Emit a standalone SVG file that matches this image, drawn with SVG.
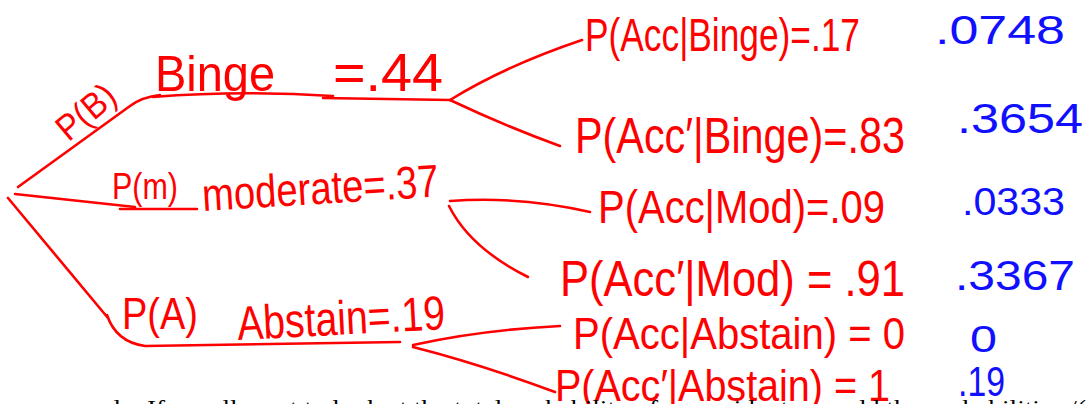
<svg xmlns="http://www.w3.org/2000/svg" width="1086" height="404" viewBox="0 0 1086 404">
<style>
.c{fill:none;stroke:#ff0000;stroke-width:2.6;stroke-linecap:round;stroke-linejoin:round}
.r{fill:#ff0000;font-family:"Liberation Sans","DejaVu Sans",sans-serif}
.b{fill:#1010ff;font-family:"Liberation Sans","DejaVu Sans",sans-serif}
.k{fill:#000;font-family:"Liberation Serif",serif;font-size:24px}
</style>
<rect width="1086" height="404" fill="#fff"/>
<g id="connectors">
<path class="c" d="M18,187 L130,106 Q142,97 160,95"/>
<path class="c" d="M153,97 Q240,90 333,96"/>
<path class="c" d="M323,98 L450,100"/>
<path class="c" d="M450,100 Q505,66 582,40"/>
<path class="c" d="M450,100 Q505,126 560,146"/>
<path class="c" d="M15,194 L135,207"/>
<path class="c" d="M120,209 L197,209"/>
<path class="c" d="M450,201 Q520,196 590,212"/>
<path class="c" d="M449,206 Q470,248 528,277"/>
<path class="c" d="M8,198 L108,318 M107,315 Q116,342 145,346 L400,342"/>
<path class="c" d="M413,345 Q480,330 560,326"/>
<path class="c" d="M413,347 Q480,364 555,392"/>
</g>
<g id="node-root-binge">
<text class="r" font-size="36" text-anchor="middle" transform="translate(86,112) rotate(-40)" y="12" textLength="66" lengthAdjust="spacingAndGlyphs">P(B)</text>
<text class="r" font-size="50" x="155" y="91" textLength="120" lengthAdjust="spacingAndGlyphs">Binge</text>
<text class="r" font-size="54" x="333" y="91" textLength="110" lengthAdjust="spacingAndGlyphs">=.44</text>
</g>
<g id="node-moderate">
<text class="r" font-size="36" x="112" y="199" textLength="66" lengthAdjust="spacingAndGlyphs">P(m)</text>
<text class="r" font-size="46" transform="rotate(-3.5 203 211)" x="203" y="211" textLength="237" lengthAdjust="spacingAndGlyphs">moderate=.37</text>
</g>
<g id="node-abstain">
<text class="r" font-size="44" x="122" y="329" textLength="76" lengthAdjust="spacingAndGlyphs">P(A)</text>
<text class="r" font-size="48" transform="rotate(-3 238 340)" x="238" y="340" textLength="208" lengthAdjust="spacingAndGlyphs">Abstain=.19</text>
</g>
<g id="node-acc-binge">
<text class="r" font-size="46" x="585" y="51" textLength="275" lengthAdjust="spacingAndGlyphs">P(Acc|Binge)=.17</text>
<text class="b" font-size="40" x="935" y="44" textLength="130" lengthAdjust="spacingAndGlyphs">.0748</text>
</g>
<g id="node-accp-binge">
<text class="r" font-size="50" x="575" y="153" textLength="330" lengthAdjust="spacingAndGlyphs">P(Acc′|Binge)=.83</text>
<text class="b" font-size="42" x="957" y="133" textLength="126" lengthAdjust="spacingAndGlyphs">.3654</text>
</g>
<g id="node-acc-mod">
<text class="r" font-size="46" x="598" y="223" textLength="287" lengthAdjust="spacingAndGlyphs">P(Acc|Mod)=.09</text>
<text class="b" font-size="38" x="962" y="215" textLength="103" lengthAdjust="spacingAndGlyphs">.0333</text>
</g>
<g id="node-accp-mod">
<text class="r" font-size="50" x="560" y="296" textLength="345" lengthAdjust="spacingAndGlyphs">P(Acc′|Mod) = .91</text>
<text class="b" font-size="42" x="955" y="290" textLength="120" lengthAdjust="spacingAndGlyphs">.3367</text>
</g>
<g id="node-acc-abstain">
<text class="r" font-size="44" x="573" y="349" textLength="332" lengthAdjust="spacingAndGlyphs">P(Acc|Abstain) = 0</text>
<text class="b" font-size="36" x="970" y="352" textLength="27" lengthAdjust="spacingAndGlyphs">0</text>
</g>
<g id="node-accp-abstain">
<text class="r" font-size="44" x="555" y="401" textLength="335" lengthAdjust="spacingAndGlyphs">P(Acc′|Abstain) = 1</text>
<text class="b" font-size="42" x="958" y="396" textLength="47" lengthAdjust="spacingAndGlyphs">.19</text>
</g>
<text class="k" x="100" y="416" textLength="986" lengthAdjust="spacingAndGlyphs">ple. If we all want to look at the total probability of an accident, we add the probabilities /(</text>
</svg>
